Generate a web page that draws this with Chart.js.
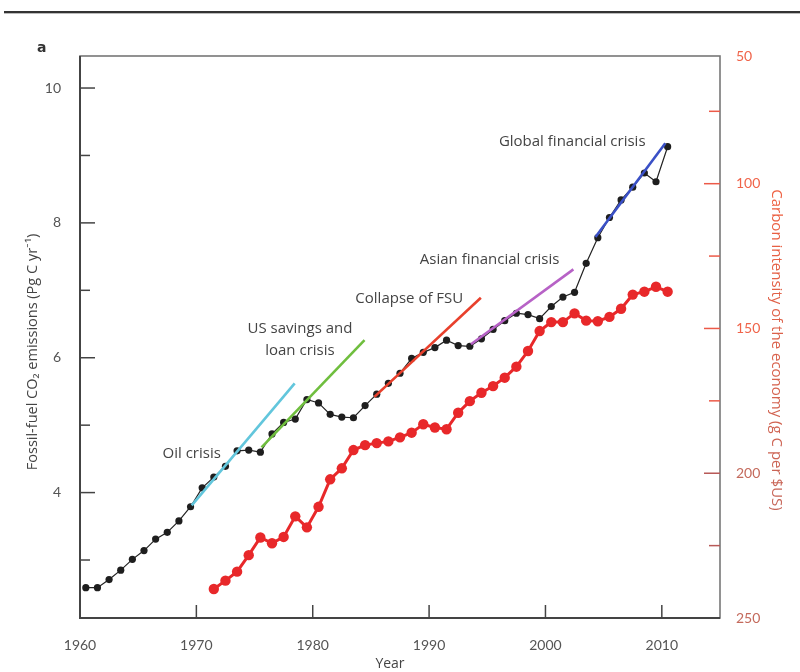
<!DOCTYPE html>
<html><head><meta charset="utf-8">
<script src="https://cdn.jsdelivr.net/npm/chart.js@4.4.1/dist/chart.umd.min.js"></script>
<style>
html,body{margin:0;padding:0;background:#fff;}
#wrap{position:relative;width:800px;height:672px;overflow:hidden;}
#rule{position:absolute;left:4px;right:0;top:11px;height:2px;background:#333;border-bottom:1px solid #bbb;}
canvas{position:absolute;left:0;top:0;}
</style></head><body>
<div id="wrap"><div id="rule"></div><canvas id="c" width="800" height="672"></canvas></div>
<script>
// ---- data ----
const emissionYears = [1960,1961,1962,1963,1964,1965,1966,1967,1968,1969,
  1970,1971,1972,1973,1974,1975,1976,1977,1978,1979,
  1980,1981,1982,1983,1984,1985,1986,1987,1988,1989,
  1990,1991,1992,1993,1994,1995,1996,1997,1998,1999,
  2000,2001,2002,2003,2004,2005,2006,2007,2008,2009,2010];
const emissions = [2.59,2.59,2.71,2.85,3.01,3.14,3.31,3.41,3.58,3.79,
  4.07,4.23,4.39,4.62,4.63,4.60,4.87,5.04,5.09,5.38,
  5.33,5.16,5.12,5.11,5.29,5.46,5.62,5.77,5.99,6.08,
  6.15,6.26,6.18,6.17,6.28,6.42,6.55,6.66,6.64,6.58,
  6.76,6.90,6.97,7.40,7.78,8.08,8.34,8.53,8.74,8.61,9.13];
const intensityYears = [1971,1972,1973,1974,1975,1976,1977,1978,1979,
  1980,1981,1982,1983,1984,1985,1986,1987,1988,1989,
  1990,1991,1992,1993,1994,1995,1996,1997,1998,1999,
  2000,2001,2002,2003,2004,2005,2006,2007,2008,2009,2010];
const intensity = [240.0,237.1,234.0,228.3,222.2,224.2,222.0,214.9,218.7,
  211.6,202.1,198.3,192.0,190.3,189.6,189.0,187.6,186.0,183.1,
  184.2,184.8,179.1,175.1,172.2,169.9,167.0,163.2,157.8,150.9,
  147.8,147.8,144.8,147.3,147.5,146.0,143.2,138.3,137.3,135.6,137.3];

const trendOil     = [[1969.6, 3.81], [1978.45, 5.62]];
const trendSavings = [[1975.6, 4.67], [1984.45, 6.26]];
const trendFSU     = [[1985.3, 5.42], [1994.45, 6.89]];
const trendAsian   = [[1993.6, 6.20], [2002.4, 7.31]];
const trendGlobal  = [[2004.3, 7.79], [2010.3, 9.18]];

const xTickValues = [1960,1970,1980,1990,2000,2010];
const leftTickValues = [3,4,5,6,7,8,9,10];
const leftTickLabels = ['','4','','6','','8','','10'];
const rightTickValues = [55.9,75,100,125,150,175,200,225,250];
const rightTickLabels = ['50','','100','','150','','200','','250'];

const annotations = [
  {text:'Oil crisis', x:1969.6, y:4.58},
  {text:'US savings and', x:1978.9, y:6.43},
  {text:'loan crisis', x:1978.9, y:6.11},
  {text:'Collapse of FSU', x:1988.3, y:6.88},
  {text:'Asian financial crisis', x:1995.2, y:7.46},
  {text:'Global financial crisis', x:2002.3, y:9.21}
];

// ---- build ----
const toPts = (yrs, vals) => yrs.map((yr, i) => ({x: yr + 0.5, y: vals[i]}));
const seg = s => s.map(p => ({x: p[0], y: p[1]}));
const trendDS = (s, color) => ({data: seg(s), showLine: true, borderColor: color, borderWidth: 2.6,
  pointRadius: 0, yAxisID: 'y', order: 0});

const FONT = '"Open Sans", Lato, sans-serif';
const TFONT = 'Lato, "Open Sans", sans-serif';

const decor = {
  id: 'decor',
  afterDatasetsDraw(chart) {
    const {ctx, chartArea: a, scales} = chart;
    ctx.save();
    // frame
    ctx.strokeStyle = '#777'; ctx.lineWidth = 1.6;
    ctx.strokeRect(a.left, a.top, a.right - a.left, a.bottom - a.top);
    ctx.strokeStyle = '#444'; ctx.lineWidth = 2;
    ctx.beginPath(); ctx.moveTo(a.left, a.top); ctx.lineTo(a.left, a.bottom); ctx.lineTo(a.right, a.bottom); ctx.stroke();
    // left ticks
    ctx.lineWidth = 1.5; ctx.strokeStyle = '#444';
    scales.y.ticks.forEach((t, i) => {
      const py = scales.y.getPixelForValue(t.value);
      const len = leftTickLabels[i] ? 15 : 10;
      ctx.beginPath(); ctx.moveTo(a.left, py); ctx.lineTo(a.left + len, py); ctx.stroke();
    });
    // bottom ticks
    scales.x.ticks.forEach(t => {
      if (t.value === 1960) return;
      const px = scales.x.getPixelForValue(t.value);
      ctx.beginPath(); ctx.moveTo(px, a.bottom); ctx.lineTo(px, a.bottom - 13); ctx.stroke();
    });
    // right ticks
    scales.y2.ticks.forEach((t, i) => {
      if (i === 0 || i === rightTickValues.length - 1) return;
      const py = scales.y2.getPixelForValue(t.value);
      const len = rightTickLabels[i] ? 16 : 11;
      ctx.strokeStyle = t.value >= 190 ? '#b85a58' : '#ec5a48';
      ctx.beginPath(); ctx.moveTo(a.right, py); ctx.lineTo(a.right - len, py); ctx.stroke();
    });
    // annotations
    ctx.fillStyle = '#444'; ctx.font = '15px ' + FONT;
    ctx.textAlign = 'center'; ctx.textBaseline = 'middle';
    annotations.forEach(n => {
      ctx.fillText(n.text, scales.x.getPixelForValue(n.x), scales.y.getPixelForValue(n.y));
    });
    // panel letter
    ctx.fillStyle = '#333'; ctx.font = 'bold 14px "DejaVu Sans", sans-serif';
    ctx.textAlign = 'left';
    ctx.fillText('a', 37, 48);
    // axis titles
    ctx.fillStyle = '#444'; ctx.font = '14px ' + FONT; ctx.textAlign = 'center';
    ctx.fillText('Year', 390, 664);
    ctx.save();
    ctx.font = '14.5px ' + FONT;
    ctx.translate(33, 352); ctx.rotate(-Math.PI / 2);
    ctx.fillText('Fossil-fuel CO\u2082 emissions (Pg C yr\u207B\u00B9)', 0, 0);
    ctx.restore();
    ctx.save();
    ctx.font = '15px ' + FONT;
    ctx.translate(776, 350); ctx.rotate(Math.PI / 2);
    const g = ctx.createLinearGradient(-170, 0, 170, 0);
    g.addColorStop(0, '#f05e3e'); g.addColorStop(1, '#c4665a');
    ctx.fillStyle = g;
    ctx.fillText('Carbon intensity of the economy (g C per $US)', 0, 0);
    ctx.restore();
    ctx.restore();
  }
};

new Chart(document.getElementById('c'), {
  type: 'scatter',
  data: {
    datasets: [
      trendDS(trendOil, '#62c6dc'),
      trendDS(trendSavings, '#6fbe3e'),
      trendDS(trendFSU, '#e8402c'),
      trendDS(trendAsian, '#b762c6'),
      trendDS(trendGlobal, '#3a50c6'),
      {data: toPts(emissionYears, emissions), showLine: true, borderColor: '#222', borderWidth: 1.2,
        pointRadius: 3.6, pointBackgroundColor: '#1e1e1e', pointBorderColor: '#1e1e1e', pointBorderWidth: 0,
        yAxisID: 'y', order: 1},
      {data: toPts(intensityYears, intensity), showLine: true, borderColor: '#e8282a', borderWidth: 3,
        pointRadius: 5.2, pointBackgroundColor: '#e8282a', pointBorderColor: '#e8282a', pointBorderWidth: 0,
        yAxisID: 'y2', order: 2}
    ]
  },
  options: {
    responsive: false, animation: false,
    layout: {padding: {top: 56, left: 0, right: 0, bottom: 0}},
    plugins: {legend: {display: false}, tooltip: {enabled: false}},
    scales: {
      x: {type: 'linear', min: 1960, max: 2015,
        afterBuildTicks: s => { s.ticks = xTickValues.map(v => ({value: v})); },
        afterFit: s => { s.height = 54; },
        grid: {display: false}, border: {display: false},
        ticks: {font: {family: TFONT, size: 14}, color: '#555', padding: 11, maxRotation: 0, autoSkip: false,
          callback: v => String(v)}},
      y: {type: 'linear', position: 'left', min: 2.14, max: 10.475,
        afterBuildTicks: s => { s.ticks = leftTickValues.map(v => ({value: v})); },
        afterFit: s => { s.width = 80; },
        grid: {display: false}, border: {display: false},
        ticks: {font: {family: TFONT, size: 14}, color: '#555', padding: 11, autoSkip: false,
          callback: (v, i) => leftTickLabels[i]}},
      y2: {type: 'linear', position: 'right', reverse: true, min: 55.9, max: 250,
        afterBuildTicks: s => { s.ticks = rightTickValues.map(v => ({value: v})); },
        afterFit: s => { s.width = 80; },
        grid: {display: false}, border: {display: false},
        ticks: {font: {family: TFONT, size: 14}, padding: 8, autoSkip: false,
          color: c => (c.tick && c.tick.value >= 190) ? '#c46a5c' : '#f0644a',
          callback: (v, i) => rightTickLabels[i]}}
    }
  },
  plugins: [decor]
});
</script>
</body></html>
